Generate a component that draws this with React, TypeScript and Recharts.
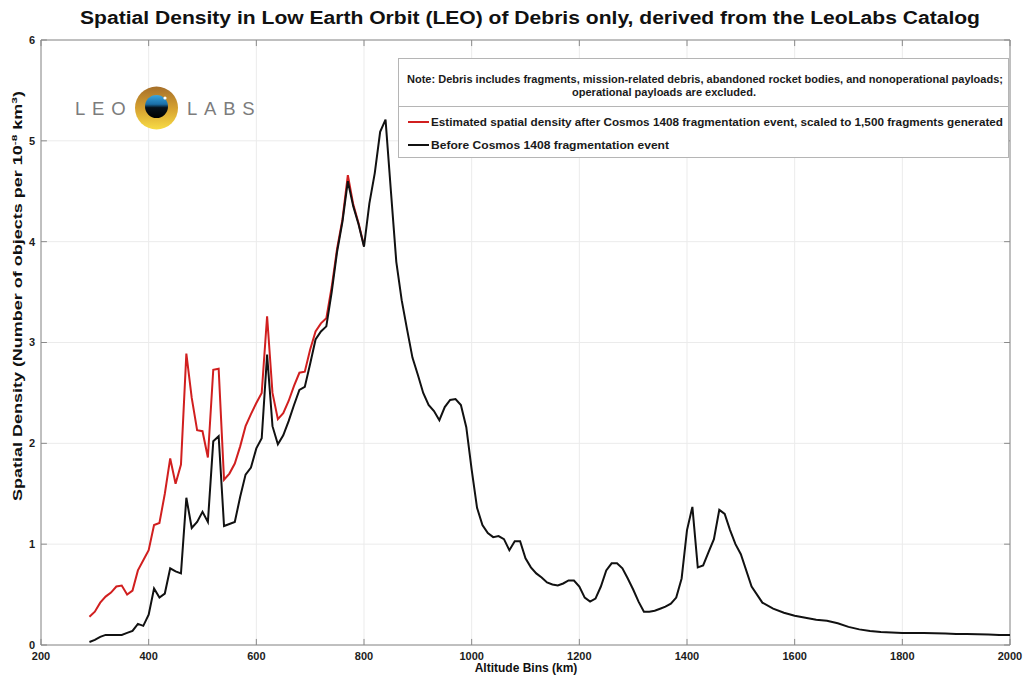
import React from "react";
import { LineChart, Line, XAxis, YAxis, CartesianGrid, Legend, ReferenceLine, ReferenceArea } from "recharts";

// altitude bins (km)
const altitudes = [
  290, 300, 310, 320, 330, 340, 350, 360, 370, 380,
  390, 400, 410, 420, 430, 440, 450, 460, 470, 480,
  490, 500, 510, 520, 530, 540, 550, 560, 570, 580,
  590, 600, 610, 620, 630, 640, 650, 660, 670, 680,
  690, 700, 710, 720, 730, 740, 750, 760, 770, 780,
  790, 800, 810, 820, 830, 840, 850, 860, 870, 880,
  890, 900, 910, 920, 930, 940, 950, 960, 970, 980,
  990, 1000, 1010, 1020, 1030, 1040, 1050, 1060, 1070, 1080,
  1090, 1100, 1110, 1120, 1130, 1140, 1150, 1160, 1170, 1180,
  1190, 1200, 1210, 1220, 1230, 1240, 1250, 1260, 1270, 1280,
  1290, 1300, 1310, 1320, 1330, 1340, 1350, 1360, 1370, 1380,
  1390, 1400, 1410, 1420, 1430, 1440, 1450, 1460, 1470, 1480,
  1490, 1500, 1520, 1540, 1560, 1580, 1600, 1620, 1640, 1660,
  1680, 1700, 1720, 1740, 1760, 1780, 1800, 1820, 1840, 1860,
  1880, 1900, 1920, 1940, 1960, 1980, 2000,
];

// before Cosmos 1408 fragmentation (black)
const beforeDensity = [
  0.03, 0.05, 0.08, 0.1, 0.1, 0.1, 0.1, 0.12, 0.14, 0.21,
  0.19, 0.3, 0.56, 0.47, 0.51, 0.76, 0.73, 0.71, 1.46, 1.16,
  1.22, 1.32, 1.22, 2.02, 2.07, 1.18, 1.2, 1.22, 1.47, 1.69,
  1.76, 1.95, 2.05, 2.88, 2.17, 1.99, 2.08, 2.22, 2.38, 2.53,
  2.56, 2.79, 3.03, 3.11, 3.16, 3.5, 3.9, 4.2, 4.6, 4.35,
  4.17, 3.95, 4.38, 4.68, 5.09, 5.21, 4.5, 3.8, 3.42, 3.13,
  2.85, 2.68, 2.5, 2.38, 2.32, 2.23, 2.36, 2.43, 2.44, 2.38,
  2.16, 1.74, 1.36, 1.19, 1.11, 1.07, 1.08, 1.05, 0.94, 1.03,
  1.03, 0.86, 0.77, 0.71, 0.67, 0.62, 0.6, 0.59, 0.61, 0.64,
  0.64, 0.58, 0.47, 0.43, 0.46, 0.58, 0.74, 0.81, 0.81, 0.76,
  0.66, 0.55, 0.43, 0.33, 0.33, 0.34, 0.36, 0.38, 0.41, 0.47,
  0.66, 1.14, 1.37, 0.77, 0.79, 0.92, 1.05, 1.34, 1.3, 1.14,
  1.0, 0.9, 0.58, 0.42, 0.36, 0.32, 0.29, 0.27, 0.25, 0.24,
  0.215, 0.18, 0.155, 0.14, 0.13, 0.125, 0.12, 0.12, 0.118, 0.116,
  0.113, 0.11, 0.109, 0.106, 0.104, 0.1, 0.1,
];

// after fragmentation, scaled to 1,500 fragments (red) – merges with black above ~800 km
const afterDensity = [
  0.28, 0.33, 0.42, 0.48, 0.52, 0.58, 0.59, 0.5, 0.54, 0.74,
  0.84, 0.94, 1.19, 1.21, 1.5, 1.85, 1.6, 1.79, 2.89, 2.45,
  2.13, 2.12, 1.86, 2.73, 2.74, 1.64, 1.7, 1.8, 1.97, 2.17,
  2.29, 2.4, 2.5, 3.26, 2.5, 2.24, 2.3, 2.42, 2.57, 2.7,
  2.71, 2.93, 3.11, 3.19, 3.24, 3.55, 3.93, 4.22, 4.66, 4.37,
  4.18, 3.96,
];

const xTicks = [200, 400, 600, 800, 1000, 1200, 1400, 1600, 1800, 2000];
const yTicks = [0, 1, 2, 3, 4, 5, 6];

const afterName =
  "Estimated spatial density after Cosmos 1408 fragmentation event, scaled to 1,500 fragments generated";
const beforeName = "Before Cosmos 1408 fragmentation event";
const noteLine1 =
  "Note: Debris includes fragments, mission-related debris, abandoned rocket bodies, and nonoperational payloads;";
const noteLine2 = "operational payloads are excluded.";
const legendOrder = ["after", "before"];

const data = altitudes.map((alt, i) => ({
  alt,
  before: beforeDensity[i],
  after: i < afterDensity.length ? afterDensity[i] : null,
}));

const X_MIN = 200;
const X_MAX = 2000;
const Y_MIN = 0;
const Y_MAX = 6;
// inward tick length in data units (~6px)
const TICK_DX = 11;
const TICK_DY = 0.06;

const FONT = "'Liberation Sans', Arial, Helvetica, sans-serif";
const AXIS_GRAY = "#8a8a8a";
const RED = "#d11f1f";
const BLACK = "#111111";

const tickStyle = { fontSize: 11, fontWeight: 700, fill: "#1c1c1c", fontFamily: FONT };

function LegendBox(props: any) {
  const payload = [...(props.payload || [])].sort(
    (a: any, b: any) => legendOrder.indexOf(a.dataKey) - legendOrder.indexOf(b.dataKey)
  );
  const entryWidths = [572, 238];
  return (
    <svg width={612} height={101} style={{ display: "block", fontFamily: FONT }}>
      <rect x={0.5} y={0.5} width={610} height={99} fill="#fff" stroke="#b5b5b5" />
      <line x1={0.5} x2={610.5} y1={48.5} y2={48.5} stroke="#b5b5b5" />
      <text x={9} y={24.5} fontSize={10} fontWeight={700} fill="#1a1a1a" textLength={596} lengthAdjust="spacingAndGlyphs">
        {noteLine1}
      </text>
      <text x={174} y={38} fontSize={10} fontWeight={700} fill="#1a1a1a" textLength={184} lengthAdjust="spacingAndGlyphs">
        {noteLine2}
      </text>
      {payload.map((entry: any, i: number) => {
        const cy = 64 + i * 23;
        return (
          <g key={i}>
            <line x1={10} x2={31} y1={cy} y2={cy} stroke={entry.color} strokeWidth={2} />
            <text
              x={33}
              y={cy + 3.5}
              fontSize={10}
              fontWeight={700}
              fill="#1a1a1a"
              textLength={entryWidths[i]}
              lengthAdjust="spacingAndGlyphs"
            >
              {entry.value}
            </text>
          </g>
        );
      })}
    </svg>
  );
}

function Overlay() {
  return (
    <svg
      width={1024}
      height={683}
      style={{ position: "absolute", left: 0, top: 0, pointerEvents: "none", fontFamily: FONT }}
    >
      <defs>
        <linearGradient id="ring" x1="0" y1="0" x2="0" y2="1">
          <stop offset="0%" stopColor="#a66f2a" />
          <stop offset="55%" stopColor="#d9a531" />
          <stop offset="100%" stopColor="#f7dc45" />
        </linearGradient>
        <linearGradient id="eye" x1="0" y1="0" x2="0" y2="1">
          <stop offset="0%" stopColor="#3aa6e0" />
          <stop offset="40%" stopColor="#1a6fa8" />
          <stop offset="55%" stopColor="#06121c" />
          <stop offset="100%" stopColor="#000" />
        </linearGradient>
      </defs>
      {/* title */}
      <text
        x={530}
        y={24}
        textAnchor="middle"
        fontSize={18}
        fontWeight={700}
        fill="#111"
        textLength={900}
        lengthAdjust="spacingAndGlyphs"
      >
        Spatial Density in Low Earth Orbit (LEO) of Debris only, derived from the LeoLabs Catalog
      </text>
      {/* axis titles */}
      <text x={526} y={672} textAnchor="middle" fontSize={12} fontWeight={700} fill="#111">
        Altitude Bins (km)
      </text>
      <text
        transform="translate(22,296) rotate(-90)"
        textAnchor="middle"
        fontSize={12}
        fontWeight={700}
        fill="#111"
        textLength={410}
        lengthAdjust="spacingAndGlyphs"
      >
        Spatial Density (Number of objects per 10
        <tspan fontSize={8} dy={-5}>-8</tspan>
        <tspan dy={5}> km</tspan>
        <tspan fontSize={8} dy={-5}>3</tspan>
        <tspan dy={5}>)</tspan>
      </text>
      {/* logo */}
      <text x={75} y={115} fontSize={18.5} fill="#7c7c7c" letterSpacing={6.8}>
        LEO
      </text>
      <circle cx={156.5} cy={108} r={21.5} fill="url(#ring)" />
      <circle cx={156.5} cy={106.5} r={11.5} fill="url(#eye)" />
      <circle cx={165} cy={98} r={1.6} fill="#fff" />
      <text x={187} y={115} fontSize={18.5} fill="#7c7c7c" letterSpacing={6.8}>
        LABS
      </text>
    </svg>
  );
}

export default function App() {
  return (
    <div style={{ position: "absolute", left: 0, top: 0, width: 1024, height: 683, background: "#fff" }}>
      <LineChart width={1024} height={683} data={data} margin={{ top: 40, right: 14, bottom: 14, left: 0 }}>
        <CartesianGrid stroke="#ebebeb" strokeWidth={1} />
        <XAxis
          dataKey="alt"
          type="number"
          domain={[X_MIN, X_MAX]}
          ticks={xTicks}
          height={24}
          tick={tickStyle}
          tickLine={false}
          axisLine={false}
          tickSize={0}
          tickMargin={7}
        />
        <YAxis
          type="number"
          domain={[Y_MIN, Y_MAX]}
          ticks={yTicks}
          width={41}
          tick={tickStyle}
          tickLine={false}
          axisLine={false}
          tickSize={0}
          tickMargin={6}
        />
        {/* axes box */}
        <ReferenceArea
          x1={X_MIN}
          x2={X_MAX}
          y1={Y_MIN}
          y2={Y_MAX}
          fill="none"
          fillOpacity={0}
          stroke={AXIS_GRAY}
          strokeWidth={1}
        />
        {/* inward tick marks on all four sides */}
        {xTicks.map((t) => (
          <ReferenceLine
            key={`xb${t}`}
            segment={[{ x: t, y: Y_MIN }, { x: t, y: Y_MIN + TICK_DY }]}
            stroke={AXIS_GRAY}
          />
        ))}
        {xTicks.map((t) => (
          <ReferenceLine
            key={`xt${t}`}
            segment={[{ x: t, y: Y_MAX }, { x: t, y: Y_MAX - TICK_DY }]}
            stroke={AXIS_GRAY}
          />
        ))}
        {yTicks.map((t) => (
          <ReferenceLine
            key={`yl${t}`}
            segment={[{ x: X_MIN, y: t }, { x: X_MIN + TICK_DX, y: t }]}
            stroke={AXIS_GRAY}
          />
        ))}
        {yTicks.map((t) => (
          <ReferenceLine
            key={`yr${t}`}
            segment={[{ x: X_MAX, y: t }, { x: X_MAX - TICK_DX, y: t }]}
            stroke={AXIS_GRAY}
          />
        ))}
        <Legend
          layout="vertical"
          align="center"
          verticalAlign="middle"
          wrapperStyle={{ top: 58, left: 398, width: 612, height: 101 }}
          content={LegendBox}
        />
        <Line
          type="linear"
          dataKey="after"
          name={afterName}
          stroke={RED}
          strokeWidth={2}
          dot={false}
          activeDot={false}
          isAnimationActive={false}
        />
        <Line
          type="linear"
          dataKey="before"
          name={beforeName}
          stroke={BLACK}
          strokeWidth={2}
          dot={false}
          activeDot={false}
          isAnimationActive={false}
        />
      </LineChart>
      <Overlay />
    </div>
  );
}
